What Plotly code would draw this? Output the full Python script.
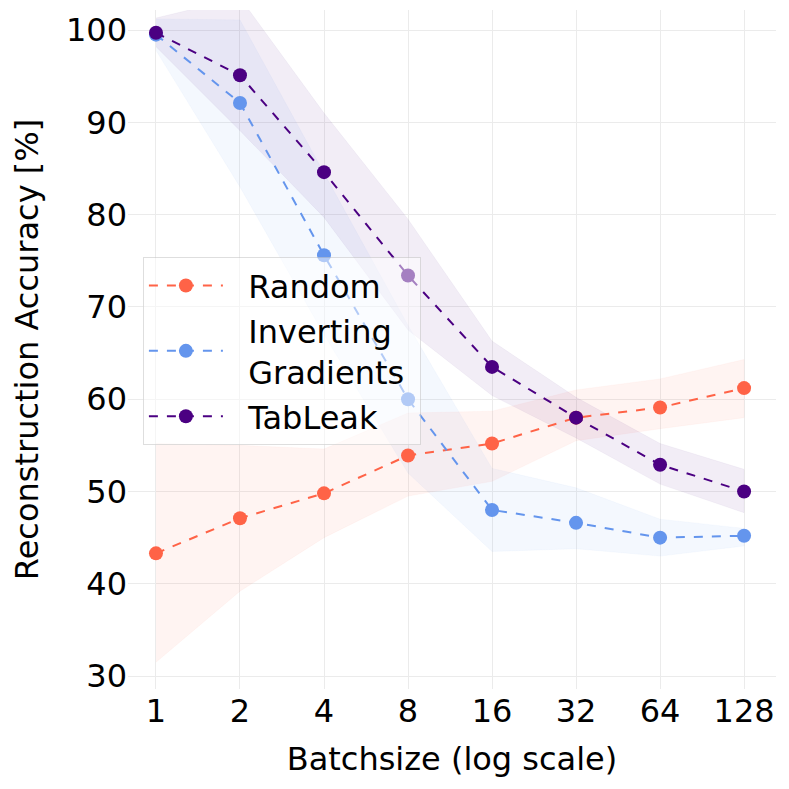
import math

import plotly.graph_objects as go

batch_sizes = [1, 2, 4, 8, 16, 32, 64, 128]

random_mean = [43.3, 47.1, 49.8, 53.9, 55.2, 58.0, 59.1, 61.2]
random_low = [31.5, 39.2, 45.0, 49.5, 51.1, 55.5, 56.8, 58.0]
random_high = [55.2, 55.0, 54.6, 58.5, 58.7, 61.0, 62.2, 64.3]

ig_mean = [99.5, 92.1, 75.6, 60.0, 48.0, 46.6, 45.0, 45.2]
ig_low = [97.8, 83.0, 67.0, 52.0, 43.5, 43.8, 43.0, 44.1]
ig_high = [101.2, 101.1, 84.5, 68.0, 52.5, 50.4, 47.0, 46.0]

tl_mean = [99.7, 95.1, 84.6, 73.4, 63.5, 58.0, 52.9, 50.0]
tl_low = [98.2, 89.1, 79.7, 67.5, 60.4, 55.8, 50.8, 47.7]
tl_high = [101.3, 103.5, 91.0, 79.5, 66.3, 60.2, 55.2, 52.4]

series = [
    ("Random", random_mean, random_low, random_high, (255, 99, 71)),
    ("Inverting<br>Gradients", ig_mean, ig_low, ig_high, (100, 149, 237)),
    ("TabLeak", tl_mean, tl_low, tl_high, (75, 0, 130)),
]

fig = go.Figure()

# shaded bands first
for name, mean, low, high, rgb in series:
    r, g, b = rgb
    fig.add_trace(
        go.Scatter(
            x=batch_sizes + batch_sizes[::-1],
            y=high + low[::-1],
            mode="lines",
            fill="toself",
            fillcolor=f"rgba({r},{g},{b},0.07)",
            line=dict(width=0.5, color=f"rgba({r},{g},{b},0.08)"),
            hoverinfo="skip",
            showlegend=False,
        )
    )

pad = "\u00a0\u00a0"
for name, mean, low, high, rgb in series:
    r, g, b = rgb
    label = pad + name.replace("<br>", "<br>" + pad)
    if "<br>" in name:
        label += "\u00a0"
    fig.add_trace(
        go.Scatter(
            x=batch_sizes,
            y=mean,
            mode="lines+markers",
            name=label,
            line=dict(color=f"rgb({r},{g},{b})", dash="dash", width=2),
            marker=dict(color=f"rgb({r},{g},{b})", size=14),
        )
    )

# the page body adds 8px on the left and top, margins account for it
fig.update_layout(
    width=789,
    height=789,
    margin=dict(l=120, r=21, t=2, b=108),
    plot_bgcolor="white",
    paper_bgcolor="white",
    font=dict(family="DejaVu Sans", size=32, color="black"),
    legend=dict(
        x=0.023,
        y=0.636,
        xanchor="left",
        yanchor="top",
        bgcolor="rgba(255,255,255,0.5)",
        bordercolor="rgba(200,200,200,0.6)",
        borderwidth=1,
        font=dict(size=32),
        itemwidth=74,
    ),
)
fig.update_xaxes(
    type="log",
    range=[math.log10(2 ** -0.333), math.log10(2 ** 7.38)],
    tickvals=batch_sizes,
    ticktext=[str(v) for v in batch_sizes],
    title=dict(text="Batchsize (log scale)", font=dict(size=32), standoff=18),
    showgrid=True,
    gridcolor="#ebebeb",
    showline=False,
    zeroline=False,
    tickfont=dict(size=32),
    automargin=False,
)
fig.update_yaxes(
    range=[28.6, 102.17],
    tickvals=[30, 40, 50, 60, 70, 80, 90, 100],
    title=dict(text="Reconstruction Accuracy [%]", font=dict(size=32), standoff=22),
    showgrid=True,
    gridcolor="#ebebeb",
    showline=False,
    zeroline=False,
    tickfont=dict(size=32),
    automargin=False,
)

fig.write_html("out.html")
